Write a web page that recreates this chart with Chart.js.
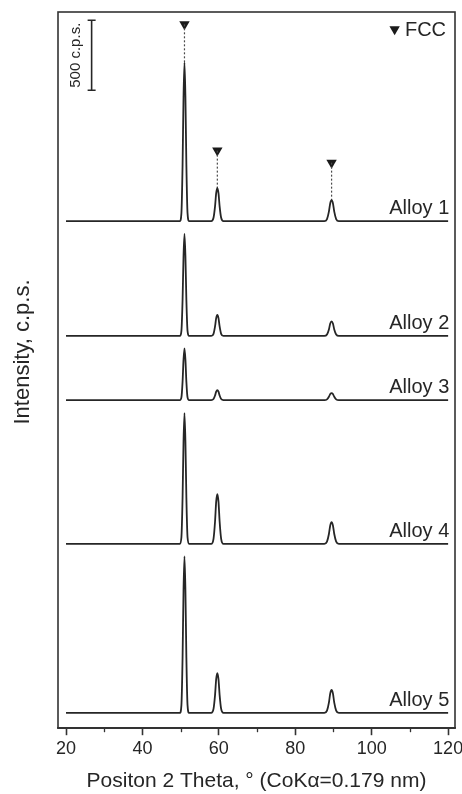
<!DOCTYPE html>
<html>
<head>
<meta charset="utf-8">
<script src="https://cdn.jsdelivr.net/npm/chart.js@4/dist/chart.umd.min.js"></script>
<style>
  body { margin: 0; background: #fff; }
  #wrap { width: 462px; height: 794px; }
</style>
</head>
<body>
<div id="wrap"><canvas id="xrd" width="462" height="794"></canvas></div>
<script>
// XRD patterns of five alloys, stacked with a vertical offset

const twoTheta = [20,
  49.8, 50.2, 50.5, 50.75, 51.0, 51.25, 51.5, 51.8, 52.2,
  58.0, 58.6, 59.0, 59.3, 59.6, 59.9, 60.2, 60.6, 61.2,
  87.6, 88.3, 88.8, 89.15, 89.5, 89.85, 90.2, 90.7, 91.4,
  120];

const alloyNames = ['Alloy 1', 'Alloy 2', 'Alloy 3', 'Alloy 4', 'Alloy 5'];

// intensity above each pattern's own baseline, c.p.s.
const alloy1 = [0, 0, 57, 397, 885, 1135, 885, 397, 57, 0, 0, 24, 106, 200, 235, 200, 106, 24, 0, 0, 15, 68, 128, 150, 128, 68, 15, 0, 0];
const alloy2 = [0, 0, 37, 256, 569, 730, 569, 256, 37, 0, 0, 15, 68, 128, 150, 128, 68, 15, 0, 0, 11, 47, 89, 105, 89, 47, 11, 0, 0];
const alloy3 = [0, 0, 19, 130, 289, 370, 289, 130, 19, 0, 0, 7, 32, 60, 70, 60, 32, 7, 0, 0, 5, 23, 43, 50, 43, 23, 5, 0, 0];
const alloy4 = [0, 0, 47, 327, 729, 935, 729, 327, 47, 0, 0, 36, 160, 302, 355, 302, 160, 36, 0, 0, 16, 70, 132, 155, 132, 70, 16, 0, 0];
const alloy5 = [0, 0, 56, 392, 874, 1120, 874, 392, 56, 0, 0, 29, 128, 242, 285, 242, 128, 29, 0, 0, 17, 74, 140, 165, 140, 74, 17, 0, 0];

// stacking offset of each pattern, c.p.s.
const offsets = [3625, 2804, 2346, 1318, 109];

// FCC reflections marked above Alloy 1
const fccPeaks = [51.0, 59.6, 89.5];
const fccMarkY = [5032, 4129, 4043];
const fccPeakTop = [4760, 3860, 3775];

const xTicks = [20, 40, 60, 80, 100, 120];
const xMinorTicks = [30, 50, 70, 90, 110];

const scaleBarX = 26.7;
const scaleBar = [5061, 4561]; // 500 c.p.s.

const INK = '#262626';
const FONT = '"Liberation Sans", Arial, sans-serif';

const series = [alloy1, alloy2, alloy3, alloy4, alloy5];

const datasets = series.map((vals, i) => ({
  label: alloyNames[i],
  data: twoTheta.map((x, k) => ({ x: x, y: vals[k] + offsets[i] })),
  borderColor: INK,
  borderWidth: 1.8,
  pointRadius: 0,
  cubicInterpolationMode: 'monotone',
  fill: false
}));

fccPeaks.forEach((x, i) => {
  datasets.push({
    label: 'guide' + i,
    data: [{ x: x, y: fccMarkY[i] }, { x: x, y: fccPeakTop[i] }],
    borderColor: '#4a4a4a',
    borderWidth: 1.2,
    borderDash: [2, 2],
    pointRadius: 0
  });
});

datasets.push({
  label: 'FCC',
  data: fccPeaks.map((x, i) => ({ x: x, y: fccMarkY[i] })).concat([{ x: 106.0, y: 4996 }]),
  showLine: false,
  pointStyle: 'triangle',
  rotation: 180,
  pointRadius: 6,
  backgroundColor: '#1a1a1a',
  borderColor: '#1a1a1a',
  borderWidth: 0
});

datasets.push({
  label: 'scale',
  data: scaleBar.map(y => ({ x: scaleBarX, y: y })),
  borderColor: INK,
  borderWidth: 1.6,
  pointStyle: 'line',
  pointRadius: 4,
  pointBorderColor: INK,
  pointBorderWidth: 1.6
});

const decorations = {
  id: 'decorations',
  afterDraw(chart) {
    const { ctx, chartArea, scales } = chart;
    const xs = scales.x, ys = scales.y;
    ctx.save();

    // frame
    ctx.strokeStyle = '#333';
    ctx.lineWidth = 1.6;
    ctx.strokeRect(chartArea.left, chartArea.top, chartArea.right - chartArea.left, chartArea.bottom - chartArea.top);

    // minor ticks
    ctx.lineWidth = 1.3;
    xMinorTicks.forEach(v => {
      const px = Math.round(xs.getPixelForValue(v)) + 0.5;
      ctx.beginPath();
      ctx.moveTo(px, chartArea.bottom);
      ctx.lineTo(px, chartArea.bottom + 4);
      ctx.stroke();
    });

    ctx.fillStyle = INK;

    // pattern labels
    ctx.font = '20px ' + FONT;
    ctx.textAlign = 'right';
    ctx.textBaseline = 'alphabetic';
    alloyNames.forEach((name, i) => {
      ctx.fillText(name, xs.getPixelForValue(120.3), ys.getPixelForValue(offsets[i]) - 7);
    });

    // legend text
    ctx.textAlign = 'left';
    ctx.fillText('FCC', xs.getPixelForValue(108.7), ys.getPixelForValue(4996) + 7);

    // scale bar label
    ctx.save();
    ctx.font = '15px ' + FONT;
    ctx.translate(xs.getPixelForValue(scaleBarX) - 16, ys.getPixelForValue((scaleBar[0] + scaleBar[1]) / 2));
    ctx.rotate(-Math.PI / 2);
    ctx.textAlign = 'center';
    ctx.textBaseline = 'middle';
    ctx.fillText('500 c.p.s.', 0, 0);
    ctx.restore();

    // y title
    ctx.save();
    ctx.font = '22px ' + FONT;
    ctx.translate(23, 352);
    ctx.rotate(-Math.PI / 2);
    ctx.textAlign = 'center';
    ctx.textBaseline = 'middle';
    ctx.fillText('Intensity, c.p.s.', 0, 0);
    ctx.restore();

    ctx.restore();
  }
};

new Chart(document.getElementById('xrd'), {
  type: 'line',
  data: { datasets },
  plugins: [decorations],
  options: {
    responsive: false,
    animation: false,
    layout: { padding: { left: 58, top: 12, right: 7, bottom: 0 } },
    plugins: {
      legend: { display: false },
      tooltip: { enabled: false }
    },
    scales: {
      x: {
        type: 'linear',
        min: 17.9,
        max: 121.8,
        afterBuildTicks: axis => { axis.ticks = xTicks.map(v => ({ value: v })); },
        afterFit: axis => { axis.paddingLeft = 0; axis.paddingRight = 0; },
        ticks: {
          color: INK,
          font: { family: FONT, size: 18 },
          padding: 3,
          autoSkip: false,
          maxRotation: 0
        },
        grid: {
          drawOnChartArea: false,
          drawTicks: true,
          tickLength: 7,
          tickColor: '#333',
          tickWidth: 1.6
        },
        border: { display: true, color: '#333', width: 1.6 },
        title: {
          display: true,
          text: 'Positon 2 Theta, ° (CoKα=0.179 nm)',
          color: INK,
          font: { family: FONT, size: 21 },
          padding: { top: 6, bottom: 0 }
        }
      },
      y: {
        type: 'linear',
        display: false,
        min: 0,
        max: 5120
      }
    }
  }
});
</script>
</body>
</html>
